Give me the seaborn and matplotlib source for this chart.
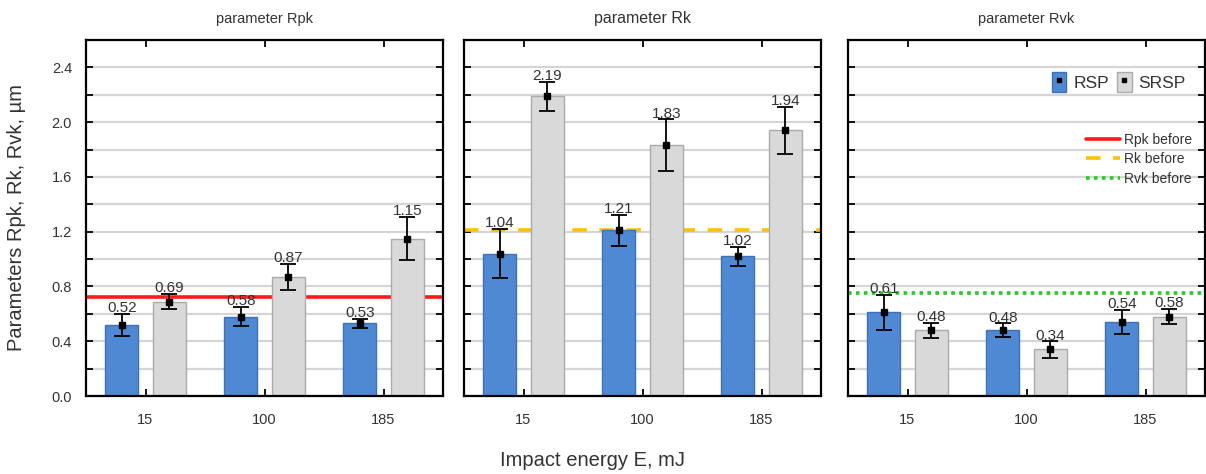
import matplotlib
matplotlib.use("Agg")
import matplotlib.pyplot as plt
import numpy as np
import pandas as pd
import seaborn as sns
from matplotlib.patches import Patch
from matplotlib.lines import Line2D
from matplotlib.legend_handler import HandlerTuple

# ---- data -------------------------------------------------------------
energies = ["15", "100", "185"]
treatments = ["RSP", "SRSP"]
parameters = ["Rpk", "Rk", "Rvk"]

rpk_rsp = [0.52, 0.58, 0.53]
rpk_srsp = [0.69, 0.87, 1.15]
rk_rsp = [1.04, 1.21, 1.02]
rk_srsp = [2.19, 1.83, 1.94]
rvk_rsp = [0.61, 0.48, 0.54]
rvk_srsp = [0.48, 0.34, 0.58]

rpk_rsp_err = [0.08, 0.07, 0.035]
rpk_srsp_err = [0.055, 0.095, 0.16]
rk_rsp_err = [0.18, 0.115, 0.07]
rk_srsp_err = [0.105, 0.19, 0.17]
rvk_rsp_err = [0.13, 0.05, 0.09]
rvk_srsp_err = [0.055, 0.06, 0.055]

# values of each parameter before treatment
before_values = [0.72, 1.21, 0.75]

# ---- style ------------------------------------------------------------
sns.set_style("white")
plt.rcParams["font.family"] = ["Liberation Sans", "DejaVu Sans"]

BLUE = "#4F89D3"
BLUE_EDGE = "#3D72B8"
GRAY = "#D9D9D9"
GRAY_EDGE = "#ABABAB"
TEXT = "#333333"

before_styles = [
    dict(color="#FF1A1A", ls="-", lw=2.6),
    dict(color="#FFC000", ls=(0, (4, 3.5)), lw=2.6),
    dict(color="#22CC22", ls=(0, (1, 1.2)), lw=2.6),
]

title_sizes = [10.5, 11.5, 10.5]

series = [
    (rpk_rsp, rpk_srsp, rpk_rsp_err, rpk_srsp_err),
    (rk_rsp, rk_srsp, rk_rsp_err, rk_srsp_err),
    (rvk_rsp, rvk_srsp, rvk_rsp_err, rvk_srsp_err),
]

W, H = 1206, 474
fig = plt.figure(figsize=(W / 100, H / 100), dpi=100)
fig.patch.set_facecolor("white")

lefts = [86, 464, 848]
ax_w, ax_top, ax_bot = 357, 40, 396

axes = []
for i, (param, (rsp, srsp, rsp_e, srsp_e)) in enumerate(zip(parameters, series)):
    ax = fig.add_axes([lefts[i] / W, (H - ax_bot) / H, ax_w / W, (ax_bot - ax_top) / H])
    axes.append(ax)

    df = pd.DataFrame({
        "energy": energies * 2,
        "treatment": ["RSP"] * 3 + ["SRSP"] * 3,
        "value": rsp + srsp,
    })
    sns.barplot(data=df, x="energy", y="value", hue="treatment",
                order=energies, hue_order=treatments,
                palette=[BLUE, GRAY], saturation=1, width=0.8, gap=0.3,
                errorbar=None, legend=False, ax=ax, zorder=2)

    errs = [rsp_e, srsp_e]
    vals = [rsp, srsp]
    edges = [BLUE_EDGE, GRAY_EDGE]
    bar_containers = list(ax.containers)
    for k, cont in enumerate(bar_containers):
        xs = []
        for bar in cont:
            bar.set_edgecolor(edges[k])
            bar.set_linewidth(1.0)
            bar.set_zorder(2)
            xs.append(bar.get_x() + bar.get_width() / 2)
        ax.errorbar(xs, vals[k], yerr=errs[k], fmt="s", color="black",
                    ms=5, capsize=6, elinewidth=1.3, capthick=1.3, zorder=3)
        for x, v, e in zip(xs, vals[k], errs[k]):
            ax.text(x, v + e + 0.012, f"{v:.2f}", ha="center", va="baseline",
                    fontsize=11, color=TEXT, zorder=4)

    ax.axhline(before_values[i], zorder=1.5, **before_styles[i])

    ax.set_ylim(0, 2.6)
    ax.set_xlim(-0.5, 2.5)
    ticks = np.arange(0, 2.61, 0.2)
    ax.set_yticks(ticks)
    ax.yaxis.grid(True, color="#D6D6D6", lw=1.6, zorder=0)
    ax.set_axisbelow(True)
    ax.set_xlabel("")
    ax.set_ylabel("")
    ax.set_title(f"parameter {param}", fontsize=title_sizes[i], color=TEXT, pad=12)
    ax.tick_params(axis="both", which="both", direction="in", length=5, width=1.3,
                   top=True, right=True, bottom=True, left=True, colors="black",
                   labelcolor=TEXT, labelsize=10.5)
    ax.tick_params(axis="x", pad=12)
    ax.tick_params(axis="y", pad=10)
    for s in ax.spines.values():
        s.set_visible(True)
        s.set_color("black")
        s.set_linewidth(1.6)
    if i == 0:
        ax.set_yticklabels([f"{t:.1f}" if abs(t / 0.4 - round(t / 0.4)) < 1e-6 else ""
                            for t in ticks])
    else:
        ax.set_yticklabels([])

# ---- legends in the last panel ---------------------------------------
ax3 = axes[2]
bar_handles = [
    (Patch(facecolor=BLUE, edgecolor=BLUE_EDGE),
     Line2D([], [], marker="s", color="black", ms=3, ls="none")),
    (Patch(facecolor=GRAY, edgecolor=GRAY_EDGE),
     Line2D([], [], marker="s", color="black", ms=3, ls="none")),
]
leg1 = ax3.legend(bar_handles, treatments, handler_map={tuple: HandlerTuple(ndivide=1)},
                  ncol=2, frameon=False, loc="center right",
                  bbox_to_anchor=(0.99, 0.882), fontsize=12.5,
                  handlelength=0.85, handleheight=1.4, handletextpad=0.4,
                  columnspacing=0.45, labelcolor=TEXT)
ax3.add_artist(leg1)

line_handles = [Line2D([], [], **st) for st in before_styles]
ax3.legend(line_handles, [f"{p} before" for p in parameters], frameon=False,
           loc="upper right", bbox_to_anchor=(1.0, 0.775), fontsize=10,
           handlelength=2.4, handletextpad=0.35, labelspacing=0.4,
           labelcolor=TEXT)

fig.text(593 / W, 1 - 460 / H, "Impact energy E, mJ", ha="center", va="center",
         fontsize=14.5, color=TEXT)
fig.text(17 / W, 1 - 218 / H, "Parameters Rpk, Rk, Rvk, µm", ha="center", va="center",
         rotation=90, fontsize=14.5, color=TEXT)

fig.savefig("out.png", dpi=100, facecolor="white")
